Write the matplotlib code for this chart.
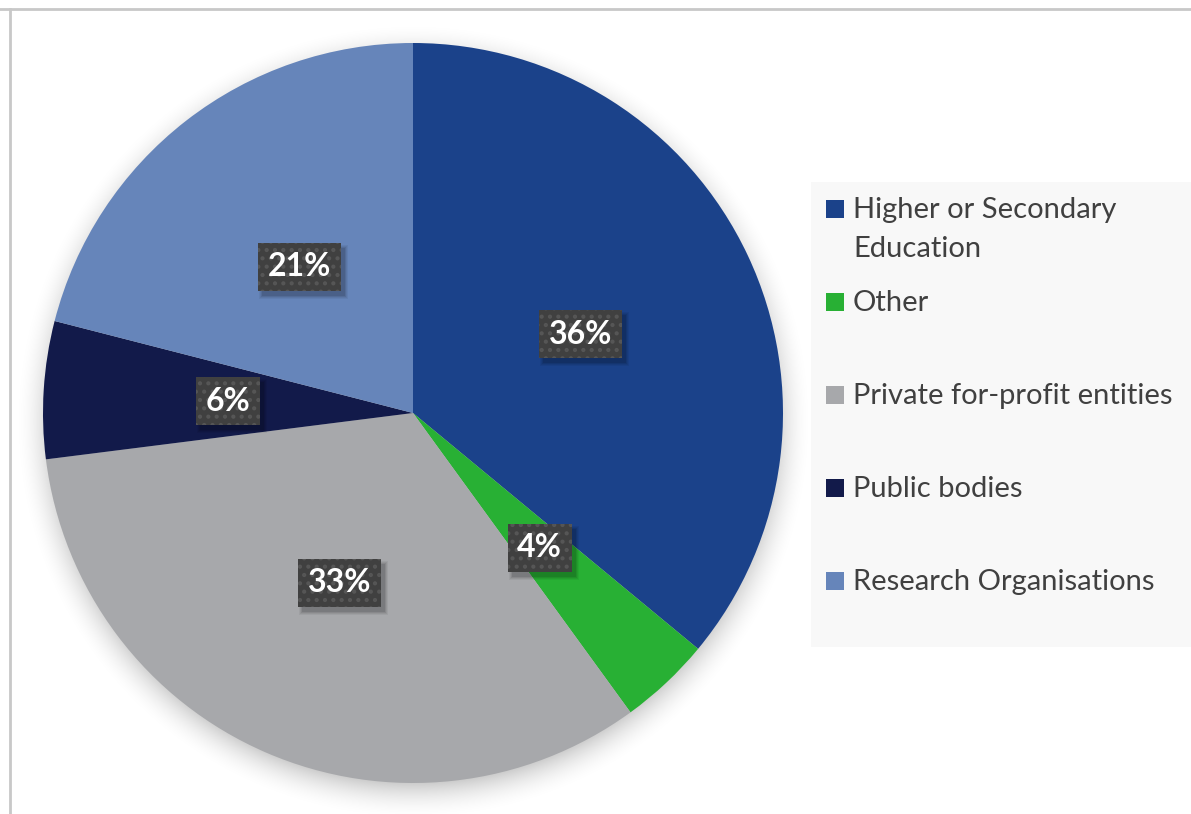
import numpy as np
import matplotlib
matplotlib.use("Agg")
import matplotlib.pyplot as plt
from matplotlib.patches import Rectangle
from matplotlib.lines import Line2D

W, H = 1191, 814

categories = ["Higher or Secondary\nEducation", "Other", "Private for-profit entities",
              "Public bodies", "Research Organisations"]
shares = [36, 4, 33, 6, 21]
colors = ["#1B428A", "#28B034", "#A7A8AB", "#121A4A", "#6685BA"]

plt.rcParams['font.family'] = ['Lato', 'DejaVu Sans']
plt.rcParams['hatch.linewidth'] = 1.8

fig = plt.figure(figsize=(W / 100, H / 100), dpi=100)
ax = fig.add_axes([0, 0, 1, 1])

# pie geometry in pixels (image coords, y down)
cx, cy, r = 413, 413, 370

# soft drop shadow under the pie
yy, xx = np.mgrid[0:H, 0:W]
d = np.hypot(xx - cx, yy - (cy + 8))
t = np.clip((d - (r - 10)) / 40.0, 0, 1)
shadow = np.zeros((H, W, 4))
shadow[..., 3] = 0.22 * (1 - t) ** 2
ax.imshow(shadow, extent=(0, W, 0, H), origin='upper', zorder=0, interpolation='bilinear')

wedges, texts, autotexts = ax.pie(
    shares, colors=colors, startangle=90, counterclock=False,
    center=(cx, H - cy), radius=r, pctdistance=0.5,
    autopct=lambda p: f"{p:.0f}%",
    wedgeprops=dict(edgecolor='none', linewidth=0, zorder=1),
    textprops=dict(color='white', fontsize=23, fontweight='bold'),
    frame=True)

for at in autotexts:
    at.set_zorder(5)
    at.set_bbox(dict(boxstyle='square,pad=0.3', facecolor='#404040',
                     edgecolor='#565656', linewidth=0, hatch='..'))

ax.set_xlim(0, W)
ax.set_ylim(0, H)
ax.set_aspect('equal')
ax.axis('off')

# soft shadows behind the label boxes
fig.canvas.draw()
for at in autotexts:
    bb = at.get_bbox_patch().get_window_extent()
    for k, a in zip(range(4), [0.10, 0.08, 0.06, 0.05]):
        ax.add_patch(Rectangle((bb.x0 + 4 - k, bb.y0 - 5 - k),
                               bb.width + 2 * k, bb.height + 2 * k,
                               facecolor='black', edgecolor='none',
                               alpha=a, zorder=4))

# legend panel
ax.add_patch(Rectangle((811, H - 647), W - 811, 647 - 182,
                       facecolor='#F8F8F8', edgecolor='none', zorder=2))
baselines = [218, 311, 404, 497, 590]
for lab, col, b in zip(categories, colors, baselines):
    ax.add_patch(Rectangle((826, H - b), 18, 18, facecolor=col,
                           edgecolor='none', zorder=3))
    for i, line in enumerate(lab.split("\n")):
        ax.text(853, H - b - i * 39, line, fontsize=21, color='#404040',
                ha='left', va='baseline', zorder=3)

# outer frame lines
ax.add_line(Line2D([0, W], [H - 9, H - 9], color='#C8C8C8', linewidth=2, zorder=6))
ax.add_line(Line2D([10, 10], [0, H - 9], color='#C8C8C8', linewidth=2, zorder=6))

fig.savefig("out.png", dpi=100)
